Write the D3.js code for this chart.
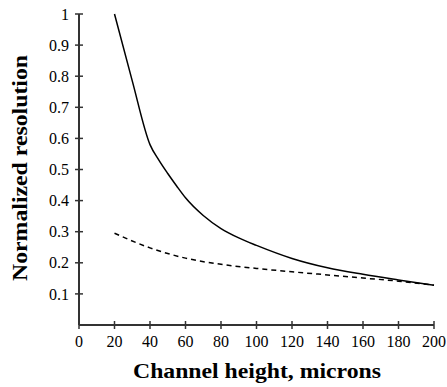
<!DOCTYPE html>
<html><head><meta charset="utf-8">
<script src="https://cdn.jsdelivr.net/npm/d3@7"></script>
<style>body{margin:0;background:#fff}svg{display:block}
text{font-family:"Liberation Serif","Times New Roman","DejaVu Serif",serif;}</style>
</head><body>
<svg id="c" width="447" height="387"></svg>
<script>
const solidX = [20, 30, 40, 45, 50, 55, 60, 70, 80, 90, 100, 120, 140, 160, 180, 200];
const solidY = [1.0, 0.785, 0.58, 0.53, 0.487, 0.447, 0.409, 0.352, 0.31, 0.28, 0.256, 0.214, 0.184, 0.163, 0.145, 0.128];
const dashX = [20, 40, 60, 80, 100, 120, 140, 160, 180, 200];
const dashY = [0.295, 0.248, 0.215, 0.195, 0.182, 0.171, 0.161, 0.151, 0.141, 0.128];
const xTicks = [0, 20, 40, 60, 80, 100, 120, 140, 160, 180, 200];
const yTicks = [0.1, 0.2, 0.3, 0.4, 0.5, 0.6, 0.7, 0.8, 0.9, 1];
const xTitle = "Channel height, microns";
const yTitle = "Normalized resolution";

const svg = d3.select("#c");
const x = d3.scaleLinear().domain([0, 200]).range([79, 434]);
const y = d3.scaleLinear().domain([0, 1]).range([325, 14]);

svg.append("line").attr("x1", x(0)).attr("x2", x(200)).attr("y1", y(0)).attr("y2", y(0))
  .attr("stroke", "#333").attr("stroke-width", 2);
svg.append("line").attr("x1", x(0)).attr("x2", x(0)).attr("y1", y(0)).attr("y2", y(1))
  .attr("stroke", "#333").attr("stroke-width", 2);

const xg = svg.append("g");
xTicks.forEach(t => {
  xg.append("line").attr("x1", x(t)).attr("x2", x(t)).attr("y1", y(0) - 4).attr("y2", y(0) + 4)
    .attr("stroke", "#333").attr("stroke-width", 1.5);
  xg.append("text").attr("x", x(t)).attr("y", y(0) + 22).attr("text-anchor", "middle")
    .style("font-size", "16px").text(t);
});
const yg = svg.append("g");
yTicks.forEach(t => {
  yg.append("line").attr("x1", x(0) - 4).attr("x2", x(0) + 4).attr("y1", y(t)).attr("y2", y(t))
    .attr("stroke", "#333").attr("stroke-width", 1.5);
  yg.append("text").attr("x", x(0) - 10).attr("y", y(t)).attr("dy", "0.35em").attr("text-anchor", "end")
    .style("font-size", "16px").text(t === 1 ? "1" : t.toFixed(1));
});

const line = d3.line().x(d => x(d[0])).y(d => y(d[1])).curve(d3.curveMonotoneX);
svg.append("path").datum(solidX.map((v, i) => [v, solidY[i]])).attr("d", line)
  .attr("fill", "none").attr("stroke", "#000").attr("stroke-width", 1.5);
svg.append("path").datum(dashX.map((v, i) => [v, dashY[i]])).attr("d", line)
  .attr("fill", "none").attr("stroke", "#000").attr("stroke-width", 1.5).attr("stroke-dasharray", "5,4");

svg.append("text").attr("x", 257).attr("y", 378).attr("text-anchor", "middle")
  .attr("textLength", 248).attr("lengthAdjust", "spacingAndGlyphs")
  .style("font-weight", "bold").style("font-size", "21px").text(xTitle);
svg.append("text").attr("transform", "translate(27,168) rotate(-90)").attr("text-anchor", "middle")
  .attr("textLength", 226).attr("lengthAdjust", "spacingAndGlyphs")
  .style("font-weight", "bold").style("font-size", "21px").text(yTitle);
</script>
</body></html>
